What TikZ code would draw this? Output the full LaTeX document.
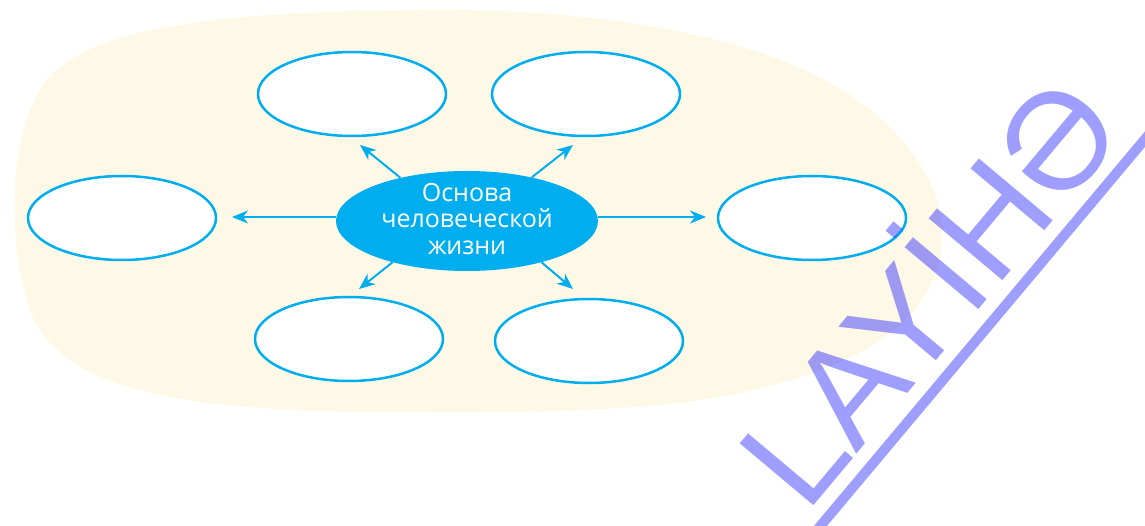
\documentclass[tikz,border=0pt]{standalone}
\usepackage{fontspec}
\setmainfont{Open Sans}
\newfontfamily\wmfont{Liberation Sans}
\usetikzlibrary{arrows.meta,shapes.geometric}
\definecolor{cyanline}{HTML}{00AEEF}
\definecolor{cream}{HTML}{FEF8E7}

\begin{document}
\begin{tikzpicture}[x=1pt,y=-1pt,
  blank/.style={ellipse, draw=cyanline, line width=2.5pt, fill=white,
    minimum width=188pt, minimum height=84pt, inner sep=0pt},
  core/.style={ellipse, fill=cyanline, minimum width=262pt,
    minimum height=100pt, inner sep=0pt},
  coretext/.style={text=white, align=center, inner sep=0pt,
    font=\fontsize{25}{26.5}\selectfont},
  link/.style={draw=cyanline, line width=2pt,
    -{Stealth[length=16pt,width=13pt,inset=5pt]}},
  wmtext/.style={text=blue, text opacity=0.38, inner sep=0pt,
    font=\wmfont\fontsize{140}{140}\selectfont},
  wmline/.style={draw=blue, draw opacity=0.38, line width=10pt}
]
\useasboundingbox (0,0) rectangle (1145,526);

% soft background patch
\fill[cream] (420,10) .. controls (600,8) and (760,35) .. (850,95)
  .. controls (913,137) and (942,190) .. (942,233)
  .. controls (942,320) and (860,375) .. (700,400)
  .. controls (620,412) and (500,413) .. (400,412)
  .. controls (200,412) and (60,395) .. (30,310)
  .. controls (10,253) and (5,150) .. (40,90)
  .. controls (75,30) and (200,12) .. (420,10) -- cycle;

% central idea
\node[core] (c) at (467,221) {};
\node[coretext] (ct) at (467,219) {Основа\\человеческой\\жизни};

% empty answer ovals
\node[blank] (tl) at (352,94) {};
\node[blank] (tr) at (586,94) {};
\node[blank] (l)  at (122,218) {};
\node[blank] (r)  at (812,218) {};
\node[blank] (bl) at (349,339) {};
\node[blank] (br) at (589,341) {};

% arrow tips stop short of the ovals
\coordinate (tlT) at (360,145);
\coordinate (trT) at (573,145);
\coordinate (lT)  at (232,217);
\coordinate (rT)  at (706,217);
\coordinate (blT) at (359,289);
\coordinate (brT) at (573,289);

\draw[link] (c.147) -- (tlT);
\draw[link] (c.34)  -- (trT);
\draw[link] (c.west |- lT) -- (lT);
\draw[link] (c.east |- rT) -- (rT);
\draw[link] (c.209) -- (blT);
\draw[link] (c.331) -- (brT);

% diagonal stamp
\begin{scope}
  \clip (0,0) rectangle (1145,526);
  \node[wmtext, rotate=50, anchor=base west] (wm) at (806.6,514.7) {LAYİHƏ};
  \coordinate (ulA) at (812,536);
  \coordinate (ulB) at (1250,14);
  \draw[wmline] (ulA) -- (ulB);
\end{scope}
\end{tikzpicture}
\end{document}
